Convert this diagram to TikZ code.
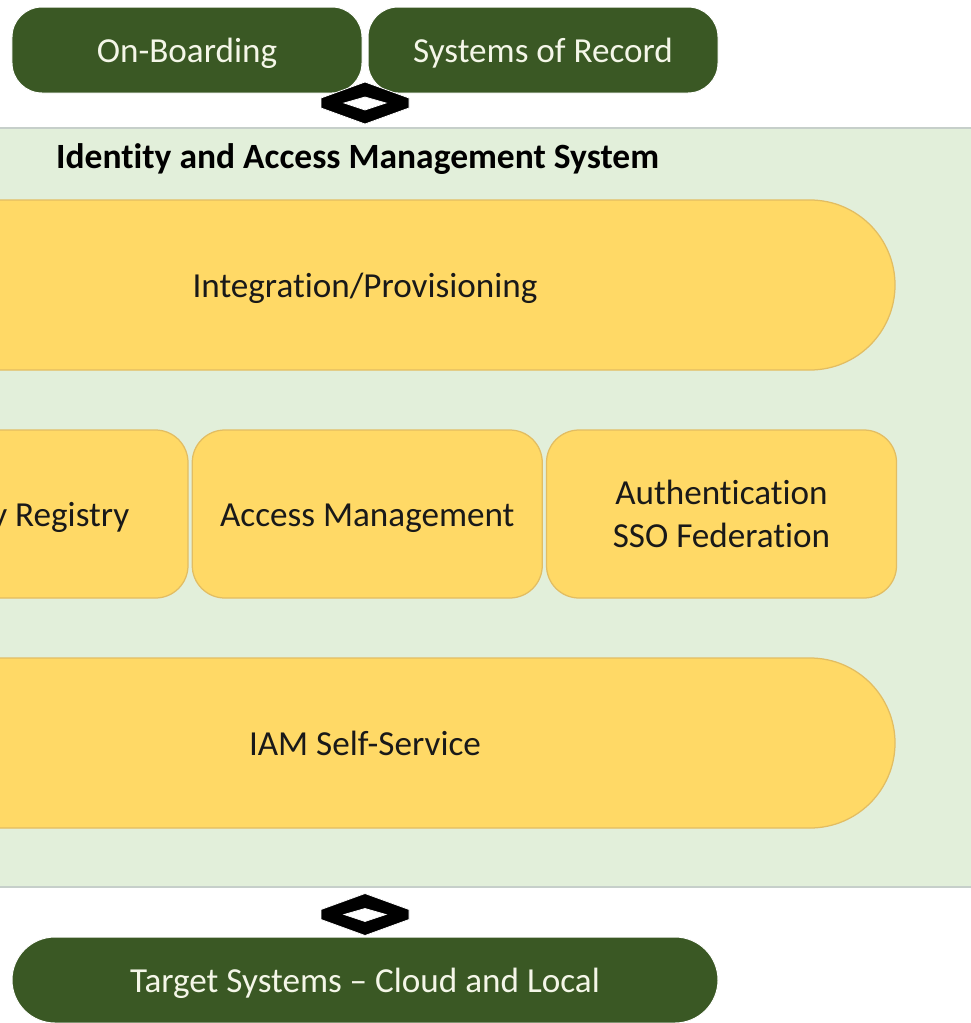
\documentclass[tikz,border=0pt]{standalone}
\usepackage{fontspec}
\setmainfont{Carlito}[Ligatures={TeX,NoCommon}]
\usetikzlibrary{positioning,calc}

\definecolor{leafgreen}{HTML}{3A5824}
\definecolor{mintbg}{HTML}{E2EFDA}
\definecolor{mintline}{HTML}{C6CFCA}
\definecolor{gold}{HTML}{FFD966}
\definecolor{goldline}{HTML}{E2BD62}
\definecolor{cream}{HTML}{F4F6E8}

\begin{document}
\begin{tikzpicture}[
		x=0.2mm, y=-0.2mm,
		every node/.style={font=\fontsize{20}{24.4}\selectfont},
		oneline/.style={text height=19pt, text depth=5pt},
		system/.style={rectangle, draw=mintline, line width=0.4mm, fill=mintbg},
		layer/.style={rectangle, draw=goldline, line width=0.25mm, fill=gold, text=black!90, minimum width=212mm, minimum height=34mm, rounded corners=17mm, oneline},
		module/.style={rectangle, draw=goldline, line width=0.25mm, fill=gold, text=black!90, minimum width=70mm, minimum height=33.6mm, rounded corners=6.5mm, align=center},
		outer/.style={rectangle, draw=white, line width=0.2mm, fill=leafgreen, text=cream, minimum width=70mm, minimum height=17.2mm, rounded corners=6mm, oneline},
		bidir/.pic={
			\path[fill=black, draw=white, line width=0.15mm, even odd rule]
				(-44,-5) -- (0,-21) -- (44,-5) -- (44,5) -- (0,21) -- (-44,5) -- cycle
				(-21,0) -- (0,-6) -- (21,0) -- (0,7) -- cycle;
		}
		]
		\useasboundingbox (0,0) rectangle (971,1023);
		\clip (0,0) rectangle (971,1023);
		
		%==================== Container ====================%
		\node[system, minimum width=200mm, minimum height=151.8mm] (iam) at (490,507.5) {};
		\node[anchor=west, font=\fontsize{20.2}{24.4}\selectfont\bfseries] (iamtitle) at (50,159) {Identity and Access Management System};
		
		%==================== Layers ====================%
		\node[layer] (integration) at (365,285) {Integration/Provisioning};
		
		\node[module, oneline] (registry) at (13,514) {Identity Registry};
		\node[module, oneline, right=0.6mm of registry] (access) {Access Management};
		\node[module, right=0.6mm of access] (authn) {Authentication\\SSO Federation};
		
		\node[layer] (selfservice) at (365,743) {IAM Self-Service};
		
		%==================== Outside systems ====================%
		\node[outer] (onboarding) at (187,50) {On-Boarding};
		\node[outer, right=1mm of onboarding] (records) {Systems of Record};
		\node[outer, minimum width=141.2mm, rounded corners=8.6mm] (targets) at (365,980) {Target Systems -- Cloud and Local};
		
		%==================== Links ====================%
		\coordinate (uplink) at ($(onboarding.south east)!0.5!(records.south west)$);
		\coordinate (downlink) at (targets.north);
		\pic at ([yshift=-1.9mm]uplink) {bidir};
		\pic at ([yshift=4.4mm]downlink) {bidir};
		
	\end{tikzpicture}
\end{document}
